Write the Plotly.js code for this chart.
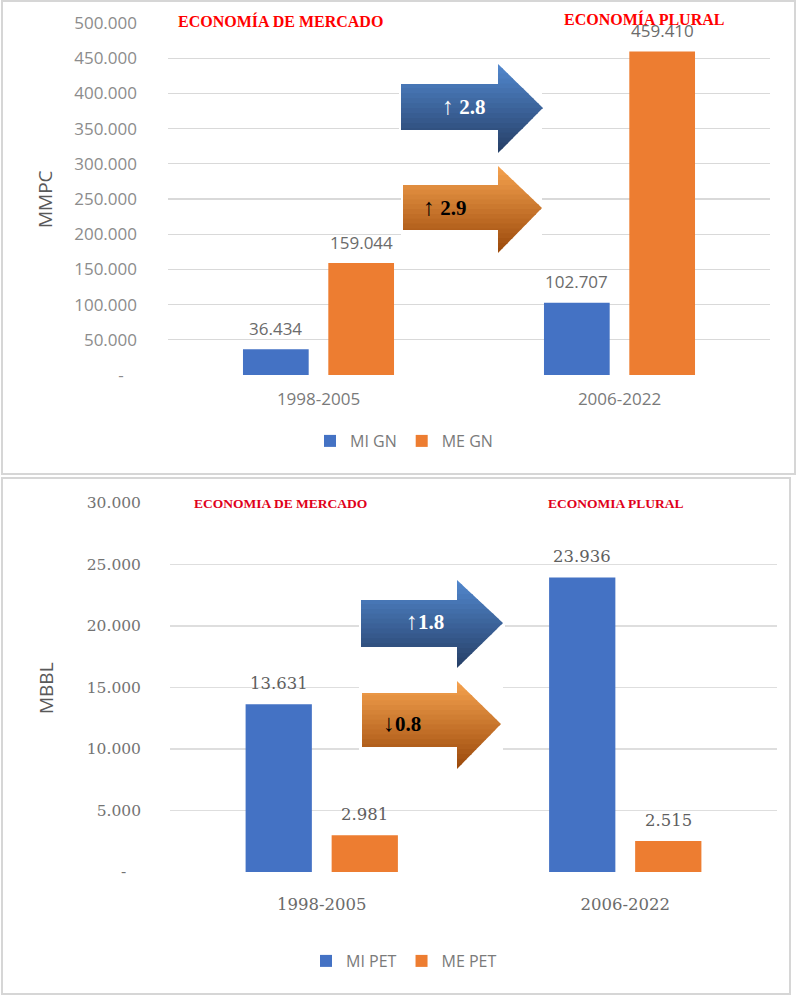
<!DOCTYPE html>
<html><head><meta charset="utf-8">
<script src="https://cdn.plot.ly/plotly-3.0.1.min.js"></script>
<style>html,body{margin:0;padding:0;background:#fff}#chart{width:797px;height:995px}</style>
</head><body><div id="chart"></div>
<script>
// ---------- data ----------
const categories = ['1998-2005', '2006-2022'];
const miGN = [36434, 102707];
const meGN = [159044, 459410];
const miPET = [13631, 23936];
const mePET = [2981, 2515];
const gnTickVals = [0, 50000, 100000, 150000, 200000, 250000, 300000, 350000, 400000, 450000, 500000];
const petTickVals = [0, 5000, 10000, 15000, 20000, 25000, 30000];
const gnNames = ['MI GN', 'ME GN'];
const petNames = ['MI PET', 'ME PET'];
const gnArrowSymbols = ['\u2191', '\u2191'];
const gnArrowValues = ['2.8', '2.9'];
const petArrowSymbols = ['\u2191', '\u2193'];
const petArrowValues = ['1.8', '0.8'];
const periodTitlesTop = ['ECONOMÍA DE MERCADO', 'ECONOMÍA PLURAL'];
const periodTitlesBottom = ['ECONOMIA DE MERCADO', 'ECONOMIA PLURAL'];

// ---------- helpers ----------
const W = 797, H = 995;
const PX = x => x / W, PY = y => 1 - y / H;
function fmt(v) { return String(v).replace(/\B(?=(\d{3})+(?!\d))/g, '.'); }
function tickText(vals) { return vals.map(v => v === 0 ? '-\u00a0\u00a0\u00a0' : fmt(v)); }

const BLUE = '#4472C4', ORANGE = '#ED7D31';
const BARGAP = 0.433, GROUPGAP = 0.23;
const OFF = (1 - BARGAP) / 4;

const traces = [
  {type: 'bar', name: gnNames[0], x: categories, y: miGN, marker: {color: BLUE}, xaxis: 'x', yaxis: 'y', legend: 'legend', hoverinfo: 'skip'},
  {type: 'bar', name: gnNames[1], x: categories, y: meGN, marker: {color: ORANGE}, xaxis: 'x', yaxis: 'y', legend: 'legend', hoverinfo: 'skip'},
  {type: 'bar', name: petNames[0], x: categories, y: miPET, marker: {color: BLUE}, xaxis: 'x2', yaxis: 'y2', legend: 'legend2', hoverinfo: 'skip'},
  {type: 'bar', name: petNames[1], x: categories, y: mePET, marker: {color: ORANGE}, xaxis: 'x2', yaxis: 'y2', legend: 'legend2', hoverinfo: 'skip'}
];

// ---------- arrows (decoration) ----------
function hex2rgb(h) { h = h.replace('#', ''); return [0, 2, 4].map(i => parseInt(h.substr(i, 2), 16)); }
function mix(a, b, t) { const A = hex2rgb(a), B = hex2rgb(b); return 'rgb(' + A.map((v, i) => Math.round(v + (B[i] - v) * t)).join(',') + ')'; }
function inter(a, b, yc) { const t = (yc - a[1]) / (b[1] - a[1]); return [a[0] + t * (b[0] - a[0]), yc]; }
function clipHalf(poly, inside, yc) {
  const res = [];
  for (let i = 0; i < poly.length; i++) {
    const cur = poly[i], prev = poly[(i + poly.length - 1) % poly.length];
    const ci = inside(cur), pi = inside(prev);
    if (ci) { if (!pi) res.push(inter(prev, cur, yc)); res.push(cur); }
    else if (pi) res.push(inter(prev, cur, yc));
  }
  return res;
}
function arrowShapes(a, c1, c2) {
  const poly = [[a.x0, a.bt], [a.hx, a.bt], [a.hx, a.ht], [a.tx, a.ty], [a.hx, a.hb], [a.hx, a.bb], [a.x0, a.bb]];
  const out = [];
  const N = 18, y0 = a.ht, y1 = a.hb;
  for (let i = 0; i < N; i++) {
    const ya = y0 + (y1 - y0) * i / N - 0.4, yb = y0 + (y1 - y0) * (i + 1) / N + 0.4;
    let p = clipHalf(poly, q => q[1] >= ya, ya);
    p = clipHalf(p, q => q[1] <= yb, yb);
    if (p.length < 3) continue;
    out.push({type: 'path', xref: 'paper', yref: 'paper', layer: 'above',
      path: 'M' + p.map(q => PX(q[0]).toFixed(5) + ',' + PY(q[1]).toFixed(5)).join('L') + 'Z',
      fillcolor: mix(c1, c2, (i + 0.5) / N), line: {width: 0}});
  }
  return out;
}
function whiteBox(x0, y0, x1, y1) {
  return {type: 'rect', xref: 'paper', yref: 'paper', layer: 'above', x0: PX(x0), x1: PX(x1), y0: PY(y1), y1: PY(y0), fillcolor: '#ffffff', line: {width: 0}};
}

const shapes = [
  {type: 'rect', xref: 'paper', yref: 'paper', layer: 'below', x0: PX(2), x1: PX(795), y0: PY(474), y1: PY(1), line: {color: '#d6d6d6', width: 2}, fillcolor: 'rgba(0,0,0,0)'},
  {type: 'rect', xref: 'paper', yref: 'paper', layer: 'below', x0: PX(2), x1: PX(790), y0: PY(994), y1: PY(478), line: {color: '#d6d6d6', width: 2}, fillcolor: 'rgba(0,0,0,0)'},
  whiteBox(399, 62, 542, 155),
  whiteBox(401, 164, 542, 255),
  whiteBox(359, 578, 505, 670),
  whiteBox(359, 679, 503, 771)
].concat(
  arrowShapes({x0: 401, bt: 84, bb: 130, hx: 498, ht: 64, hb: 153, tx: 543, ty: 108}, '#5288cf', '#263f66'),
  arrowShapes({x0: 403, bt: 185, bb: 230, hx: 498, ht: 166, hb: 253, tx: 542, ty: 208}, '#f7a450', '#9a480a'),
  arrowShapes({x0: 361, bt: 600, bb: 647, hx: 457, ht: 580, hb: 668, tx: 503, ty: 623}, '#5288cf', '#263f66'),
  arrowShapes({x0: 362, bt: 693, bb: 747, hx: 457, ht: 681, hb: 769, tx: 501, ty: 724}, '#f7a450', '#9a480a')
);

// ---------- annotations ----------
const annotations = [];
function valueLabels(series, xref, yref, sign, font) {
  series.forEach((v, i) => annotations.push({xref: xref, yref: yref, x: i + sign * OFF, y: v, text: fmt(v),
    showarrow: false, xanchor: 'center', yanchor: 'middle', yshift: 21, font: font}));
}
const topLblFont = {family: 'Open Sans, sans-serif', size: 17, color: '#6b6b6b'};
const botLblFont = {family: 'DejaVu Serif, serif', size: 16.5, color: '#5f5f5f'};
valueLabels(miGN, 'x', 'y', -1, topLblFont);
valueLabels(meGN, 'x', 'y', 1, topLblFont);
valueLabels(miPET, 'x2', 'y2', -1, botLblFont);
valueLabels(mePET, 'x2', 'y2', 1, botLblFont);

function paperNote(x, y, text, font, extra) {
  return Object.assign({xref: 'paper', yref: 'paper', x: PX(x), y: PY(y), text: text, showarrow: false,
    xanchor: 'center', yanchor: 'middle', font: font}, extra || {});
}
const titleFontTop = {family: 'Liberation Serif, Times New Roman, serif', size: 16, color: '#ff0000'};
const titleFontBot = {family: 'Liberation Serif, Times New Roman, serif', size: 13.5, color: '#e0001a'};
annotations.push(
  paperNote(280, 21, '<b>' + periodTitlesTop[0] + '</b>', titleFontTop, {bgcolor: '#ffffff', borderpad: 0}),
  paperNote(644, 19.5, '<b>' + periodTitlesTop[1] + '</b>', titleFontTop),
  paperNote(280, 504, '<b>' + periodTitlesBottom[0] + '</b>', titleFontBot, {bgcolor: '#ffffff', borderpad: 1}),
  paperNote(615, 503, '<b>' + periodTitlesBottom[1] + '</b>', titleFontBot, {bgcolor: '#ffffff', borderpad: 1}),
  paperNote(45, 199, 'MMPC', {family: 'Open Sans, sans-serif', size: 19, color: '#595959'}, {textangle: -90}),
  paperNote(46, 688, 'MBBL', {family: 'Open Sans, sans-serif', size: 19, color: '#595959'}, {textangle: -90})
);
function arrowText(sym, val, sep) {
  return '<span style="font-size:24px;font-family:Liberation Serif">' + sym + '</span>' + sep + '<b>' + val + '</b>';
}
const arrowFont = (c) => ({family: 'Liberation Serif, Times New Roman, serif', size: 21, color: c});
annotations.push(
  paperNote(464, 106, arrowText(gnArrowSymbols[0], gnArrowValues[0], ' '), arrowFont('#ffffff')),
  paperNote(445, 207, arrowText(gnArrowSymbols[1], gnArrowValues[1], ' '), arrowFont('#000000')),
  paperNote(425, 621, arrowText(petArrowSymbols[0], petArrowValues[0], ''), arrowFont('#ffffff')),
  paperNote(402, 723, arrowText(petArrowSymbols[1], petArrowValues[1], ''), arrowFont('#000000'))
);

// ---------- layout ----------
const layout = {
  width: W, height: H, margin: {l: 0, r: 0, t: 0, b: 0},
  paper_bgcolor: '#ffffff', plot_bgcolor: 'rgba(0,0,0,0)',
  barmode: 'group', bargap: BARGAP, bargroupgap: GROUPGAP,
  font: {family: 'Open Sans, sans-serif', color: '#7f7f7f'},
  xaxis: {domain: [PX(168), PX(770)], anchor: 'y', type: 'category', showgrid: false, ticks: '', showline: false, zeroline: false,
    tickfont: {family: 'Open Sans, sans-serif', size: 17, color: '#7a7a7a'}, ticklabelstandoff: 12, fixedrange: true},
  yaxis: {domain: [PY(375), PY(23)], anchor: 'x', range: [0, 500000], tickmode: 'array', tickvals: gnTickVals, ticktext: tickText(gnTickVals),
    gridcolor: '#d9d9d9', gridwidth: 1.3, zeroline: false, showline: false, ticks: '', ticklabelstandoff: 30,
    tickfont: {family: 'Open Sans, sans-serif', size: 17, color: '#8c8c8c'}, fixedrange: true},
  xaxis2: {domain: [PX(170), PX(777)], anchor: 'y2', type: 'category', showgrid: false, ticks: '', showline: false, zeroline: false,
    tickfont: {family: 'DejaVu Serif, serif', size: 16.5, color: '#6b6b6b'}, ticklabelstandoff: 20, fixedrange: true},
  yaxis2: {domain: [PY(872), PY(503)], anchor: 'x2', range: [0, 30000], tickmode: 'array', tickvals: petTickVals, ticktext: tickText(petTickVals),
    gridcolor: '#dedede', gridwidth: 1.3, zeroline: false, showline: false, ticks: '', ticklabelstandoff: 28,
    tickfont: {family: 'DejaVu Serif, serif', size: 15.5, color: '#737373'}, fixedrange: true},
  legend: {orientation: 'h', x: PX(404), xanchor: 'center', y: PY(441), yanchor: 'middle', font: {family: 'Open Sans, sans-serif', size: 16, color: '#7a7a7a'}, itemwidth: 30, bgcolor: 'rgba(0,0,0,0)'},
  legend2: {orientation: 'h', x: PX(404), xanchor: 'center', y: PY(961), yanchor: 'middle', font: {family: 'Open Sans, sans-serif', size: 16, color: '#7a7a7a'}, itemwidth: 30, bgcolor: 'rgba(0,0,0,0)'},
  shapes: shapes,
  annotations: annotations,
  showlegend: true
};

Plotly.newPlot('chart', traces, layout, {displayModeBar: false, staticPlot: true});
</script>
</body></html>
